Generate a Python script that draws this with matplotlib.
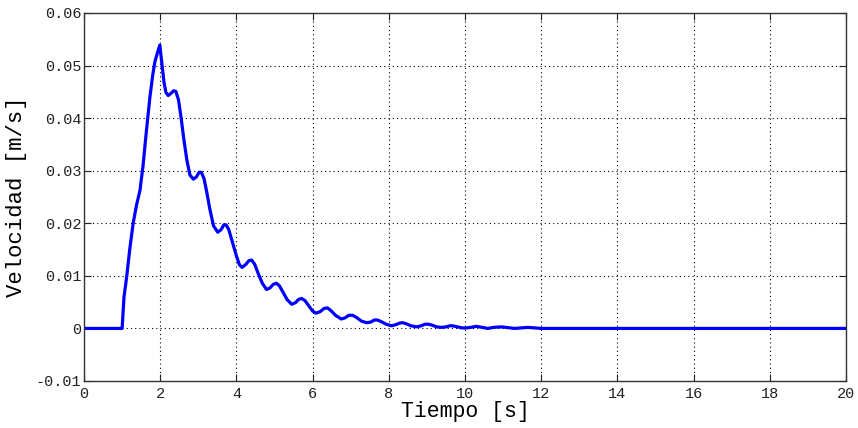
import matplotlib
matplotlib.use("Agg")
import matplotlib.pyplot as plt

tiempo = [0.0, 1.0, 1.05, 1.12, 1.2, 1.29, 1.38, 1.47, 1.55, 1.63, 1.73, 1.8, 1.86, 1.93, 1.99,
          2.05, 2.1, 2.15, 2.21, 2.28, 2.35, 2.41, 2.48, 2.55, 2.62, 2.7, 2.78, 2.87, 2.95,
          3.02, 3.08, 3.15, 3.22, 3.3, 3.4, 3.51, 3.6, 3.67, 3.73, 3.8, 3.9, 4.0, 4.08, 4.15,
          4.25, 4.33, 4.40, 4.48, 4.58, 4.68, 4.79, 4.88, 4.97, 5.05, 5.13, 5.23, 5.33, 5.45,
          5.55, 5.63, 5.71, 5.8, 5.9, 6.0, 6.09, 6.2, 6.3, 6.39, 6.48, 6.6, 6.75, 6.85, 6.95,
          7.05, 7.15, 7.28, 7.41, 7.52, 7.62, 7.70, 7.8, 7.93, 8.07, 8.18, 8.28, 8.36, 8.45,
          8.58, 8.73, 8.85, 8.95, 9.04, 9.15, 9.25, 9.38, 9.5, 9.6, 9.67, 9.8, 9.92, 10.04,
          10.15, 10.3, 10.45, 10.6, 10.75, 10.96, 11.3, 11.65, 12.0, 20.0]
velocidad = [0.0, 0.0, 0.006, 0.0098, 0.015, 0.020, 0.0235, 0.0263, 0.031, 0.037, 0.044, 0.048,
             0.0507, 0.0525, 0.0539, 0.050, 0.0468, 0.0449, 0.0443, 0.0447, 0.0452, 0.0451,
             0.0435, 0.040, 0.036, 0.032, 0.0292, 0.0284, 0.0288, 0.0297, 0.0297, 0.0285,
             0.026, 0.0228, 0.0195, 0.0183, 0.0188, 0.0197, 0.0197, 0.0188, 0.0163, 0.0138,
             0.0121, 0.0116, 0.0122, 0.0129, 0.0130, 0.0122, 0.0103, 0.0086, 0.0074, 0.0077,
             0.0084, 0.0086, 0.0081, 0.0068, 0.0055, 0.0046, 0.0049, 0.0055, 0.0057, 0.0053,
             0.0043, 0.0033, 0.0029, 0.0032, 0.0038, 0.0039, 0.0034, 0.0025, 0.0018, 0.0020,
             0.0025, 0.0025, 0.0021, 0.0014, 0.0011, 0.0012, 0.0016, 0.0016, 0.0013, 0.0008,
             0.0005, 0.0007, 0.0010, 0.0011, 0.0009, 0.0005, 0.0003, 0.0005, 0.0008, 0.0008,
             0.0006, 0.0003, 0.0002, 0.0003, 0.0005, 0.0005, 0.0003, 0.0001, 0.0001, 0.0002,
             0.0004, 0.0002, 0.0, 0.0002, 0.0003, 0.0, 0.0002, 0.0, 0.0]

xticks = [0, 2, 4, 6, 8, 10, 12, 14, 16, 18, 20]
yticks = [-0.01, 0, 0.01, 0.02, 0.03, 0.04, 0.05, 0.06]
yticklabels = ["-0.01", "0", "0.01", "0.02", "0.03", "0.04", "0.05", "0.06"]

plt.rcParams['font.family'] = ['Liberation Mono', 'DejaVu Sans']

fig = plt.figure(figsize=(8.58, 4.28), dpi=100)
ax = fig.add_axes([84 / 858, 1 - 381 / 428, (846 - 84) / 858, (381 - 13) / 428])

ax.plot(tiempo, velocidad, color='#0000ff', linewidth=2.3, solid_joinstyle='round')

ax.set_xlim(0, 20)
ax.set_ylim(-0.01, 0.06)
ax.set_xticks(xticks)
ax.set_xticklabels([str(t) for t in xticks])
ax.set_yticks(yticks)
ax.set_yticklabels(yticklabels)

ax.grid(True, color='black', linestyle=(0, (1, 2.8)), linewidth=0.8)
ax.tick_params(direction='in', length=5, width=0.8, top=True, right=True,
               labelsize=11, colors='#222222')
ax.tick_params(axis='x', pad=4)
ax.tick_params(axis='y', pad=2)
for s in ax.spines.values():
    s.set_color('#333333')
    s.set_linewidth(1.0)

ax.set_xlabel('Tiempo [s]', fontsize=15.5, labelpad=0.5)
ax.set_ylabel('Velocidad [m/s]', fontsize=16, labelpad=6)

fig.savefig('out.png', dpi=100)
